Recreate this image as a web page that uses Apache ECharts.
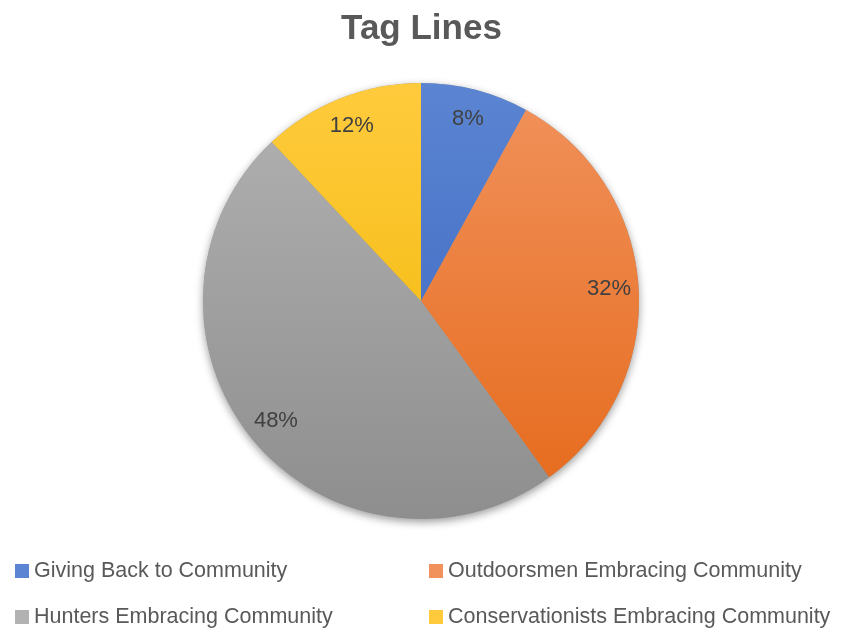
<!DOCTYPE html>
<html>
<head>
<meta charset="utf-8">
<script src="https://cdn.jsdelivr.net/npm/echarts@6/dist/echarts.min.js"></script>
<style>
  html, body { margin: 0; padding: 0; background: #fff; }
  #chart { width: 843px; height: 628px; }
</style>
</head>
<body>
<div id="chart"></div>
<script>
const categories = ['Giving Back to Community', 'Outdoorsmen Embracing Community', 'Hunters Embracing Community', 'Conservationists Embracing Community'];
const values = [8, 32, 48, 12];
const topColors = ['#5B85D2', '#F1925C', '#B2B2B2', '#FFCB3D'];
const bottomColors = ['#3763BE', '#E5691A', '#8E8E8E', '#EFB500'];

const cx = 421, cy = 301, r = 218;

function grad(i) {
    return {
        type: 'linear', global: true,
        x: 0, y: cy - r, x2: 0, y2: cy + r,
        colorStops: [
            { offset: 0, color: topColors[i] },
            { offset: 1, color: bottomColors[i] }
        ]
    };
}

const pieData = categories.map((name, i) => ({
    name: name,
    value: values[i],
    itemStyle: { color: grad(i) }
}));

let font = '"Liberation Sans", Arial, sans-serif';
// one legend per item, placed in a 2x2 grid like the original
const legendPos = [[10, 555], [424, 555], [10, 601], [424, 601]];
const legends = categories.map((name, i) => ({
    data: [name],
    left: legendPos[i][0],
    top: legendPos[i][1],
    itemWidth: 14, itemHeight: 14,
    icon: 'rect',
    textStyle: { fontFamily: font, fontSize: 21.5, color: '#595959' }
}));

let myChart = echarts.init(document.getElementById('chart'));
let option = {
    animation: false,
    title: {
        text: 'Tag Lines',
        left: 'center',
        top: 7,
        textStyle: { fontFamily: font, fontSize: 35, fontWeight: 'bold', color: '#595959' }
    },
    legend: legends,
    series: [
        {
            // shadow underneath the whole pie
            name: 'shadow',
            type: 'pie',
            z: 1,
            center: [cx, cy],
            radius: [0, r],
            startAngle: 90,
            silent: true,
            legendHoverLink: false,
            label: { show: false },
            labelLine: { show: false },
            itemStyle: {
                color: '#999',
                shadowBlur: 8,
                shadowColor: 'rgba(0,0,0,0.4)',
                shadowOffsetY: 3
            },
            emphasis: { disabled: true },
            data: categories.map((name, i) => ({ name: name + '  ', value: values[i] }))
        },
        {
            name: 'Tag Lines',
            type: 'pie',
            z: 2,
            center: [cx, cy],
            radius: [0, r],
            startAngle: 90,
            clockwise: true,
            label: { show: false },
            labelLine: { show: false },
            emphasis: { disabled: true },
            data: pieData
        },
        {
            name: 'labels',
            type: 'pie',
            z: 3,
            center: [cx, cy],
            radius: [r * 0.7, r],
            startAngle: 90,
            clockwise: true,
            silent: true,
            legendHoverLink: false,
            itemStyle: { color: 'rgba(0,0,0,0)' },
            label: {
                show: true,
                position: 'inside',
                formatter: '{d}%',
                fontFamily: font,
                fontSize: 22,
                color: '#404040'
            },
            labelLine: { show: false },
            emphasis: { disabled: true },
            data: categories.map((name, i) => ({ name: name + ' ', value: values[i] }))
        }
    ]
};
myChart.setOption(option);
</script>
</body>
</html>
